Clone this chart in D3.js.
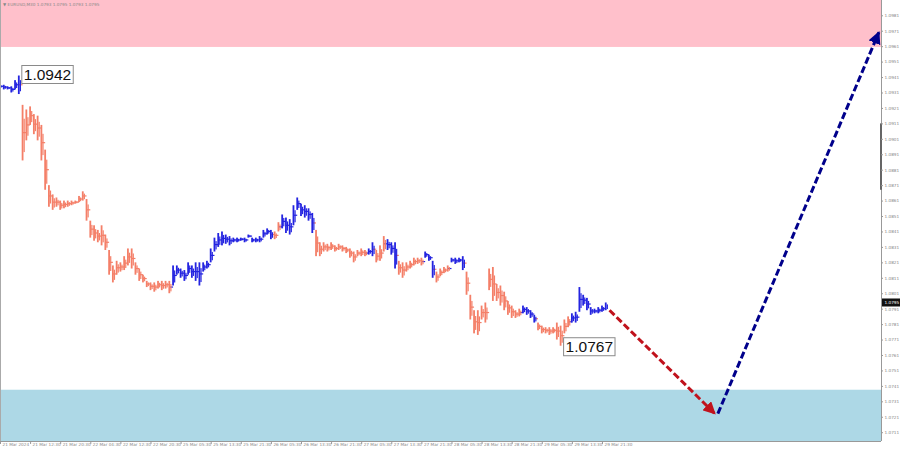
<!DOCTYPE html>
<html><head><meta charset="utf-8">
<script src="https://cdn.jsdelivr.net/npm/d3@7"></script>
<style>html,body{margin:0;padding:0;background:#fff;}svg{display:block;}</style>
</head><body>
<svg id="c" width="900" height="453"></svg>
<script>
// ---- DATA ----
const title = "EURUSD,M30  1.0793 1.0795 1.0793 1.0795";
// hourly highs / lows (hour index 0 = 21 Mar 2024 04:30)
const highs = [1.0936,1.0936,1.0935,1.0935,1.0939,1.0942,1.0923,1.0920,1.0922,1.0917,1.0916,1.0910,1.0894,1.0871,1.0865,1.0863,1.0861,1.0861,1.0861,1.0861,1.0861,1.0864,1.0867,1.0862,1.0848,1.0845,1.0842,1.0845,1.0839,1.0829,1.0819,1.0822,1.0821,1.0825,1.0830,1.0830,1.0821,1.0817,1.0813,1.0809,1.0808,1.0808,1.0809,1.0809,1.0809,1.0809,1.0819,1.0819,1.0817,1.0816,1.0821,1.0819,1.0821,1.0821,1.0821,1.0822,1.0830,1.0837,1.0840,1.0841,1.0839,1.0838,1.0837,1.0837,1.0837,1.0837,1.0839,1.0837,1.0837,1.0838,1.0842,1.0843,1.0842,1.0841,1.0847,1.0852,1.0850,1.0849,1.0858,1.0863,1.0859,1.0858,1.0856,1.0853,1.0842,1.0834,1.0834,1.0833,1.0834,1.0832,1.0833,1.0832,1.0831,1.0830,1.0828,1.0829,1.0830,1.0829,1.0830,1.0834,1.0829,1.0832,1.0838,1.0836,1.0834,1.0834,1.0822,1.0821,1.0821,1.0822,1.0824,1.0824,1.0824,1.0828,1.0826,1.0822,1.0815,1.0817,1.0818,1.0819,1.0824,1.0824,1.0824,1.0825,1.0815,1.0800,1.0790,1.0790,1.0793,1.0795,1.0817,1.0818,1.0807,1.0806,1.0802,1.0796,1.0793,1.0790,1.0791,1.0793,1.0792,1.0790,1.0787,1.0782,1.0780,1.0779,1.0779,1.0779,1.0782,1.0780,1.0784,1.0786,1.0788,1.0789,1.0805,1.0800,1.0798,1.0792,1.0791,1.0792,1.0793,1.0795];
const lows  = [1.0934,1.0933,1.0933,1.0931,1.0933,1.0930,1.0887,1.0900,1.0910,1.0904,1.0900,1.0887,1.0868,1.0857,1.0855,1.0857,1.0855,1.0856,1.0857,1.0858,1.0859,1.0860,1.0861,1.0848,1.0837,1.0835,1.0834,1.0832,1.0829,1.0813,1.0808,1.0813,1.0815,1.0816,1.0819,1.0817,1.0813,1.0809,1.0808,1.0805,1.0803,1.0802,1.0804,1.0803,1.0804,1.0801,1.0806,1.0813,1.0811,1.0809,1.0813,1.0811,1.0809,1.0806,1.0815,1.0817,1.0821,1.0828,1.0831,1.0832,1.0833,1.0832,1.0834,1.0834,1.0835,1.0834,1.0837,1.0834,1.0834,1.0834,1.0837,1.0839,1.0836,1.0836,1.0841,1.0843,1.0840,1.0839,1.0845,1.0855,1.0851,1.0850,1.0848,1.0840,1.0825,1.0825,1.0828,1.0828,1.0829,1.0828,1.0829,1.0828,1.0827,1.0824,1.0821,1.0825,1.0825,1.0825,1.0826,1.0825,1.0821,1.0822,1.0828,1.0829,1.0826,1.0817,1.0813,1.0811,1.0815,1.0817,1.0819,1.0820,1.0819,1.0824,1.0822,1.0811,1.0808,1.0812,1.0814,1.0815,1.0821,1.0820,1.0821,1.0816,1.0800,1.0784,1.0775,1.0774,1.0784,1.0782,1.0803,1.0796,1.0796,1.0793,1.0790,1.0787,1.0785,1.0785,1.0786,1.0788,1.0787,1.0785,1.0782,1.0777,1.0775,1.0775,1.0774,1.0775,1.0771,1.0767,1.0775,1.0779,1.0782,1.0782,1.0789,1.0793,1.0790,1.0787,1.0788,1.0788,1.0789,1.0790];
// wave direction per hour: b = rising wave (blue), r = falling wave (red)
const waveColor = "bbbbbb" + "r".repeat(40) + "b".repeat(27) + "rr" + "b".repeat(9) + "r".repeat(14) + "bb" + "rrr" + "bbb" + "r".repeat(7) + "bbb" + "rrrr" + "bbbb" + "r".repeat(15) + "bbbb" + "r".repeat(9) + "b".repeat(10);
const timeLabels = ["21 Mar 2024","21 Mar 12:30","21 Mar 20:30","22 Mar 04:30","22 Mar 12:30","22 Mar 20:30","25 Mar 05:30","25 Mar 13:30","25 Mar 21:30","26 Mar 05:30","26 Mar 13:30","26 Mar 21:30","27 Mar 05:30","27 Mar 13:30","27 Mar 21:30","28 Mar 05:30","28 Mar 13:30","28 Mar 21:30","29 Mar 05:30","29 Mar 13:30","29 Mar 21:30"];
const labelStepHours = 8;
const priceTicks = [1.0981,1.0971,1.0961,1.0951,1.0941,1.0931,1.0921,1.0911,1.0901,1.0891,1.0881,1.0871,1.0861,1.0851,1.0841,1.0831,1.0821,1.0811,1.0801,1.0791,1.0781,1.0771,1.0761,1.0751,1.0741,1.0731,1.0721,1.0711];
const currentPrice = 1.0795;
const resistanceZone = [1.09605, 1.1000];   // pink
const supportZone = [1.0700, 1.07385];      // light blue
const extremes = [{h:5, p:1.0942, text:"1.0942"}, {h:149, p:1.0767, text:"1.0767"}];
const forecastDown = [[162, 1.0790], [190, 1.0723]];
const forecastUp = [[190.8, 1.0723], [233.6, 1.0970]];

// ---- LAYOUT ----
const plotR = 881, plotB = 441;
const svg = d3.select("#c");
const x = d3.scaleLinear().domain([0, 234]).range([0, 880.4]);
const y = d3.scaleLinear().domain([1.07053, 1.09909]).range([plotB, 0]);
const font = "'Liberation Sans', Arial, sans-serif";
const smallFont = "'DejaVu Sans', Tahoma, sans-serif";

svg.append("clipPath").attr("id","pc").append("rect").attr("x",0).attr("y",0).attr("width",plotR).attr("height",plotB);
const g = svg.append("g").attr("clip-path","url(#pc)");

// zones
g.append("rect").attr("x",0).attr("width",plotR).attr("y",y(resistanceZone[1])).attr("height",y(resistanceZone[0])-y(resistanceZone[1])).attr("fill","#ffc0cb");
g.append("rect").attr("x",0).attr("width",plotR).attr("y",y(supportZone[1])).attr("height",y(supportZone[0])-y(supportZone[1])).attr("fill","#add8e6");

// bars
const RED = "#f47f68", BLUE = "#2424e0";
const data = highs.map((hi,i)=>({i, hi, lo: lows[i], c: waveColor[i]==="b"?BLUE:RED}));
for (let i=0;i<data.length-1;i++){
  const a=data[i], b=data[i+1];
  const ya=(y(a.hi)+y(a.lo))/2;
  g.append("line").attr("x1",x(a.i)).attr("x2",x(b.i)).attr("y1",ya).attr("y2",ya).attr("stroke",b.c).attr("stroke-width",1.2);
}
g.selectAll("rect.bar").data(data).enter().append("rect").attr("class","bar")
  .attr("x",d=>x(d.i)-0.9).attr("width",1.8)
  .attr("y",d=>y(d.hi)).attr("height",d=>Math.max(1.5,y(d.lo)-y(d.hi)))
  .attr("fill",d=>d.c);
g.selectAll("rect.bar2").data(data).enter().append("rect").attr("class","bar2")
  .attr("x",d=>x(d.i)+1.0).attr("width",1.2)
  .attr("y",d=>y(d.hi)+ (y(d.lo)-y(d.hi))*0.25).attr("height",d=>Math.max(1.5,(y(d.lo)-y(d.hi))*0.6))
  .attr("fill",d=>d.c);

// forecast arrows
const defs = svg.append("defs");
function marker(id,color){
  defs.append("marker").attr("id",id).attr("viewBox","0 0 10 10").attr("refX",9).attr("refY",5)
    .attr("markerWidth",4.2).attr("markerHeight",4.2).attr("markerUnits","strokeWidth").attr("orient","auto")
    .append("path").attr("d","M0,0 L10,5 L0,10 z").attr("fill",color);
}
marker("mr","#c0121c"); marker("mb","#00008b");
svg.append("line").attr("x1",x(forecastDown[0][0])).attr("y1",y(forecastDown[0][1])).attr("x2",x(forecastDown[1][0])).attr("y2",y(forecastDown[1][1]))
  .attr("stroke","#c0121c").attr("stroke-width",3).attr("stroke-dasharray","7,3").attr("marker-end","url(#mr)");
svg.append("line").attr("x1",x(forecastUp[0][0])).attr("y1",y(forecastUp[0][1])).attr("x2",x(forecastUp[1][0])).attr("y2",y(forecastUp[1][1]))
  .attr("stroke","#00008b").attr("stroke-width",3).attr("stroke-dasharray","7,3").attr("marker-end","url(#mb)");

// extreme labels
extremes.forEach((e,k)=>{
  const bx = x(e.h)+2, by = k===0 ? y(e.p)-10 : y(e.p)-8;
  const t = svg.append("text").attr("x",bx+3).attr("y",by+14).attr("font-family",font).attr("font-size",15.5).attr("fill","#111").text(e.text);
  const bb = t.node().getBBox();
  svg.insert("rect","text").attr("x",bb.x-2).attr("y",by).attr("width",bb.width+4).attr("height",18).attr("fill","#fff").attr("stroke","#8a8a8a").attr("stroke-width",1);
});

// frame
svg.append("line").attr("x1",0.5).attr("x2",0.5).attr("y1",0).attr("y2",plotB).attr("stroke","#aaa");
svg.append("line").attr("x1",plotR+0.5).attr("x2",plotR+0.5).attr("y1",0).attr("y2",plotB).attr("stroke","#999");
svg.append("line").attr("x1",0).attr("x2",plotR).attr("y1",plotB+0.5).attr("y2",plotB+0.5).attr("stroke","#999");
svg.append("rect").attr("x",plotR-1).attr("y",y(1.0911)).attr("width",2).attr("height",y(1.0868)-y(1.0911)).attr("fill","#666");

// right axis
const ra = svg.append("g").attr("transform",`translate(${plotR},0)`)
  .call(d3.axisRight(y).tickValues(priceTicks).tickSize(2).tickFormat(d3.format(".4f")));
ra.select(".domain").remove();
ra.selectAll("line").attr("stroke","#999");
ra.selectAll("text").attr("font-family",smallFont).attr("font-size",4.2).attr("fill","#888").attr("x",3.5);

// current price box
const cpY = y(currentPrice);
svg.append("rect").attr("x",plotR+1).attr("y",cpY-4).attr("width",18).attr("height",8).attr("fill","#111");
svg.append("text").attr("x",plotR+3.5).attr("y",cpY+1.6).attr("font-family",smallFont).attr("font-size",4.2).attr("fill","#fff").text(d3.format(".4f")(currentPrice));

// bottom axis
const ba = svg.append("g").attr("transform",`translate(0,${plotB})`)
  .call(d3.axisBottom(x).tickValues(timeLabels.map((_,i)=>i*labelStepHours)).tickSize(3).tickFormat((d,i)=>timeLabels[i]));
ba.select(".domain").remove();
ba.selectAll("line").attr("stroke","#999");
ba.selectAll("text").attr("font-family",smallFont).attr("font-size",4.2).attr("fill","#888").attr("text-anchor","start").attr("x",2).attr("y",3).attr("dy","0.4em");

// title
svg.append("text").attr("x",3).attr("y",5.5).attr("font-family",smallFont).attr("font-size",4.2).attr("fill","#888").text("\u25BC " + title);
</script>
</body></html>
